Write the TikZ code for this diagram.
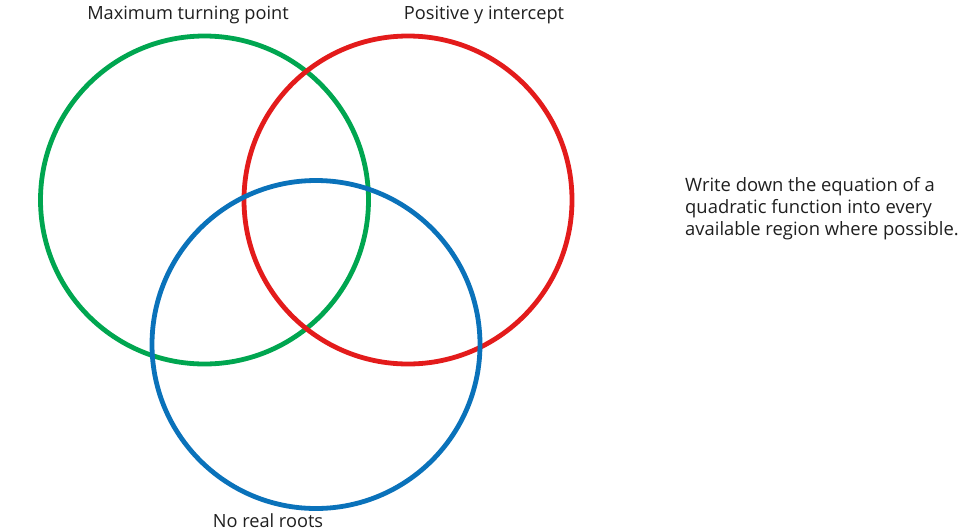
\documentclass[tikz,border=0pt]{standalone}
\usepackage{fontspec}
\setmainfont{Open Sans}
\definecolor{vgreen}{HTML}{00A650}
\definecolor{vred}{HTML}{E31B1B}
\definecolor{vblue}{HTML}{0A72BA}
\begin{document}
\begin{tikzpicture}[x=1pt,y=-1pt,
  ring/.style={draw=#1,line width=4.8pt,circle,minimum size=328pt,inner sep=0pt},
  lbl/.style={font=\fontsize{18.2}{22}\selectfont,text=black!88,inner sep=0pt}]
\useasboundingbox (0,0) rectangle (968,531);
\node[ring=vgreen] (g) at (204.5,200) {};
\node[ring=vred] (r) at (408,200) {};
\node[ring=vblue] (b) at (316,344.5) {};
\node[lbl] (lg) at (188,15.5) {Maximum turning point};
\node[lbl] (lr) at (484,15.5) {Positive y intercept};
\node[lbl] (lb) at (268,521) {No real roots};
\node[lbl,anchor=west,align=left,font=\fontsize{18.4}{22}\selectfont] (t) at (685,209) {Write down the equation of a\\quadratic function into every\\available region where possible.};
\end{tikzpicture}
\end{document}
